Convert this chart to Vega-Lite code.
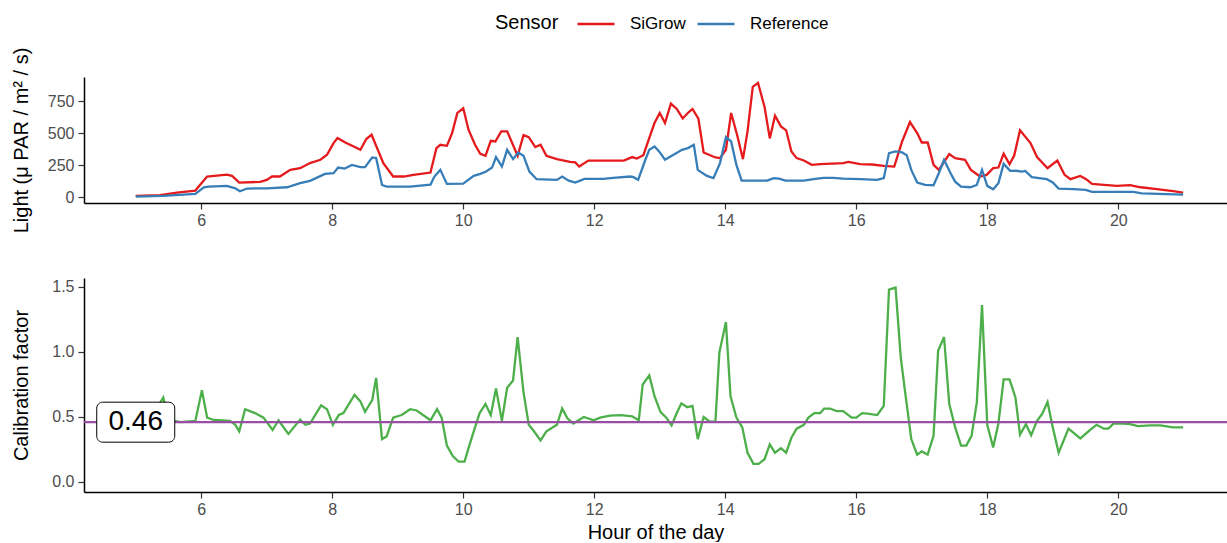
{
  "$schema": "https://vega.github.io/schema/vega-lite/v6.json",
  "padding": {"left": 11, "top": 4, "right": 0, "bottom": 0},
  "background": "white",
  "config": {
    "font": "Liberation Sans",
    "view": {"stroke": null},
    "concat": {"spacing": 45},
    "axis": {
      "grid": false,
      "domainColor": "black",
      "domainWidth": 1.5,
      "tickColor": "#333333",
      "tickWidth": 1.2,
      "tickSize": 6,
      "labelColor": "#4D4D4D",
      "labelFontSize": 16,
      "labelFont": "Liberation Sans",
      "titleFont": "Liberation Sans",
      "titleFontSize": 20,
      "titleFontWeight": "normal",
      "titleColor": "black"
    }
  },
  "datasets": {
    "light": [
      {"hour": 5.0, "sensor": "SiGrow", "light": 10}, {"hour": 5.37, "sensor": "SiGrow", "light": 16}, {"hour": 5.63, "sensor": "SiGrow", "light": 36}, {"hour": 5.91, "sensor": "SiGrow", "light": 52}, {"hour": 5.98, "sensor": "SiGrow", "light": 96}, {"hour": 6.09, "sensor": "SiGrow", "light": 162}, {"hour": 6.39, "sensor": "SiGrow", "light": 177}, {"hour": 6.47, "sensor": "SiGrow", "light": 167}, {"hour": 6.58, "sensor": "SiGrow", "light": 115}, {"hour": 6.9, "sensor": "SiGrow", "light": 120}, {"hour": 7.0, "sensor": "SiGrow", "light": 136}, {"hour": 7.08, "sensor": "SiGrow", "light": 162}, {"hour": 7.2, "sensor": "SiGrow", "light": 162}, {"hour": 7.36, "sensor": "SiGrow", "light": 214}, {"hour": 7.51, "sensor": "SiGrow", "light": 227}, {"hour": 7.66, "sensor": "SiGrow", "light": 267}, {"hour": 7.82, "sensor": "SiGrow", "light": 293}, {"hour": 7.92, "sensor": "SiGrow", "light": 332}, {"hour": 8.02, "sensor": "SiGrow", "light": 423}, {"hour": 8.08, "sensor": "SiGrow", "light": 463}, {"hour": 8.2, "sensor": "SiGrow", "light": 428}, {"hour": 8.43, "sensor": "SiGrow", "light": 371}, {"hour": 8.52, "sensor": "SiGrow", "light": 455}, {"hour": 8.6, "sensor": "SiGrow", "light": 489}, {"hour": 8.78, "sensor": "SiGrow", "light": 267}, {"hour": 8.93, "sensor": "SiGrow", "light": 162}, {"hour": 9.09, "sensor": "SiGrow", "light": 162}, {"hour": 9.24, "sensor": "SiGrow", "light": 175}, {"hour": 9.5, "sensor": "SiGrow", "light": 193}, {"hour": 9.59, "sensor": "SiGrow", "light": 384}, {"hour": 9.65, "sensor": "SiGrow", "light": 410}, {"hour": 9.75, "sensor": "SiGrow", "light": 402}, {"hour": 9.83, "sensor": "SiGrow", "light": 502}, {"hour": 9.91, "sensor": "SiGrow", "light": 659}, {"hour": 10.0, "sensor": "SiGrow", "light": 695}, {"hour": 10.08, "sensor": "SiGrow", "light": 528}, {"hour": 10.18, "sensor": "SiGrow", "light": 410}, {"hour": 10.26, "sensor": "SiGrow", "light": 340}, {"hour": 10.34, "sensor": "SiGrow", "light": 324}, {"hour": 10.42, "sensor": "SiGrow", "light": 441}, {"hour": 10.49, "sensor": "SiGrow", "light": 436}, {"hour": 10.58, "sensor": "SiGrow", "light": 515}, {"hour": 10.67, "sensor": "SiGrow", "light": 515}, {"hour": 10.77, "sensor": "SiGrow", "light": 397}, {"hour": 10.83, "sensor": "SiGrow", "light": 324}, {"hour": 10.92, "sensor": "SiGrow", "light": 486}, {"hour": 11.0, "sensor": "SiGrow", "light": 470}, {"hour": 11.1, "sensor": "SiGrow", "light": 392}, {"hour": 11.18, "sensor": "SiGrow", "light": 410}, {"hour": 11.27, "sensor": "SiGrow", "light": 324}, {"hour": 11.43, "sensor": "SiGrow", "light": 298}, {"hour": 11.63, "sensor": "SiGrow", "light": 277}, {"hour": 11.71, "sensor": "SiGrow", "light": 272}, {"hour": 11.77, "sensor": "SiGrow", "light": 240}, {"hour": 11.91, "sensor": "SiGrow", "light": 287}, {"hour": 12.45, "sensor": "SiGrow", "light": 287}, {"hour": 12.58, "sensor": "SiGrow", "light": 314}, {"hour": 12.65, "sensor": "SiGrow", "light": 303}, {"hour": 12.75, "sensor": "SiGrow", "light": 329}, {"hour": 12.83, "sensor": "SiGrow", "light": 449}, {"hour": 12.92, "sensor": "SiGrow", "light": 580}, {"hour": 13.0, "sensor": "SiGrow", "light": 659}, {"hour": 13.08, "sensor": "SiGrow", "light": 580}, {"hour": 13.17, "sensor": "SiGrow", "light": 732}, {"hour": 13.26, "sensor": "SiGrow", "light": 690}, {"hour": 13.35, "sensor": "SiGrow", "light": 616}, {"hour": 13.44, "sensor": "SiGrow", "light": 664}, {"hour": 13.5, "sensor": "SiGrow", "light": 690}, {"hour": 13.59, "sensor": "SiGrow", "light": 614}, {"hour": 13.67, "sensor": "SiGrow", "light": 350}, {"hour": 13.85, "sensor": "SiGrow", "light": 311}, {"hour": 13.92, "sensor": "SiGrow", "light": 306}, {"hour": 14.01, "sensor": "SiGrow", "light": 371}, {"hour": 14.09, "sensor": "SiGrow", "light": 659}, {"hour": 14.18, "sensor": "SiGrow", "light": 489}, {"hour": 14.27, "sensor": "SiGrow", "light": 298}, {"hour": 14.34, "sensor": "SiGrow", "light": 515}, {"hour": 14.42, "sensor": "SiGrow", "light": 863}, {"hour": 14.5, "sensor": "SiGrow", "light": 894}, {"hour": 14.6, "sensor": "SiGrow", "light": 706}, {"hour": 14.68, "sensor": "SiGrow", "light": 460}, {"hour": 14.76, "sensor": "SiGrow", "light": 638}, {"hour": 14.85, "sensor": "SiGrow", "light": 554}, {"hour": 14.93, "sensor": "SiGrow", "light": 523}, {"hour": 15.01, "sensor": "SiGrow", "light": 358}, {"hour": 15.09, "sensor": "SiGrow", "light": 306}, {"hour": 15.2, "sensor": "SiGrow", "light": 287}, {"hour": 15.32, "sensor": "SiGrow", "light": 253}, {"hour": 15.45, "sensor": "SiGrow", "light": 259}, {"hour": 15.8, "sensor": "SiGrow", "light": 267}, {"hour": 15.88, "sensor": "SiGrow", "light": 277}, {"hour": 16.06, "sensor": "SiGrow", "light": 259}, {"hour": 16.24, "sensor": "SiGrow", "light": 256}, {"hour": 16.42, "sensor": "SiGrow", "light": 245}, {"hour": 16.58, "sensor": "SiGrow", "light": 240}, {"hour": 16.7, "sensor": "SiGrow", "light": 436}, {"hour": 16.82, "sensor": "SiGrow", "light": 588}, {"hour": 16.93, "sensor": "SiGrow", "light": 502}, {"hour": 17.0, "sensor": "SiGrow", "light": 428}, {"hour": 17.09, "sensor": "SiGrow", "light": 428}, {"hour": 17.18, "sensor": "SiGrow", "light": 253}, {"hour": 17.26, "sensor": "SiGrow", "light": 214}, {"hour": 17.42, "sensor": "SiGrow", "light": 337}, {"hour": 17.51, "sensor": "SiGrow", "light": 306}, {"hour": 17.66, "sensor": "SiGrow", "light": 293}, {"hour": 17.75, "sensor": "SiGrow", "light": 214}, {"hour": 17.89, "sensor": "SiGrow", "light": 162}, {"hour": 17.99, "sensor": "SiGrow", "light": 175}, {"hour": 18.09, "sensor": "SiGrow", "light": 227}, {"hour": 18.17, "sensor": "SiGrow", "light": 232}, {"hour": 18.25, "sensor": "SiGrow", "light": 340}, {"hour": 18.34, "sensor": "SiGrow", "light": 259}, {"hour": 18.41, "sensor": "SiGrow", "light": 324}, {"hour": 18.5, "sensor": "SiGrow", "light": 523}, {"hour": 18.66, "sensor": "SiGrow", "light": 423}, {"hour": 18.76, "sensor": "SiGrow", "light": 314}, {"hour": 18.92, "sensor": "SiGrow", "light": 227}, {"hour": 19.07, "sensor": "SiGrow", "light": 287}, {"hour": 19.18, "sensor": "SiGrow", "light": 175}, {"hour": 19.27, "sensor": "SiGrow", "light": 141}, {"hour": 19.42, "sensor": "SiGrow", "light": 167}, {"hour": 19.51, "sensor": "SiGrow", "light": 141}, {"hour": 19.6, "sensor": "SiGrow", "light": 104}, {"hour": 19.78, "sensor": "SiGrow", "light": 96}, {"hour": 19.98, "sensor": "SiGrow", "light": 89}, {"hour": 20.18, "sensor": "SiGrow", "light": 94}, {"hour": 20.34, "sensor": "SiGrow", "light": 78}, {"hour": 20.59, "sensor": "SiGrow", "light": 63}, {"hour": 20.84, "sensor": "SiGrow", "light": 47}, {"hour": 20.99, "sensor": "SiGrow", "light": 36},
      {"hour": 5.0, "sensor": "Reference", "light": 5}, {"hour": 5.42, "sensor": "Reference", "light": 10}, {"hour": 5.91, "sensor": "Reference", "light": 26}, {"hour": 6.04, "sensor": "Reference", "light": 78}, {"hour": 6.11, "sensor": "Reference", "light": 83}, {"hour": 6.39, "sensor": "Reference", "light": 89}, {"hour": 6.52, "sensor": "Reference", "light": 70}, {"hour": 6.59, "sensor": "Reference", "light": 47}, {"hour": 6.7, "sensor": "Reference", "light": 68}, {"hour": 7.0, "sensor": "Reference", "light": 70}, {"hour": 7.31, "sensor": "Reference", "light": 78}, {"hour": 7.51, "sensor": "Reference", "light": 110}, {"hour": 7.66, "sensor": "Reference", "light": 128}, {"hour": 7.89, "sensor": "Reference", "light": 183}, {"hour": 8.02, "sensor": "Reference", "light": 188}, {"hour": 8.09, "sensor": "Reference", "light": 232}, {"hour": 8.19, "sensor": "Reference", "light": 224}, {"hour": 8.3, "sensor": "Reference", "light": 253}, {"hour": 8.43, "sensor": "Reference", "light": 235}, {"hour": 8.5, "sensor": "Reference", "light": 235}, {"hour": 8.61, "sensor": "Reference", "light": 311}, {"hour": 8.67, "sensor": "Reference", "light": 306}, {"hour": 8.76, "sensor": "Reference", "light": 96}, {"hour": 8.83, "sensor": "Reference", "light": 83}, {"hour": 9.19, "sensor": "Reference", "light": 83}, {"hour": 9.5, "sensor": "Reference", "light": 99}, {"hour": 9.56, "sensor": "Reference", "light": 162}, {"hour": 9.65, "sensor": "Reference", "light": 214}, {"hour": 9.75, "sensor": "Reference", "light": 104}, {"hour": 10.0, "sensor": "Reference", "light": 107}, {"hour": 10.16, "sensor": "Reference", "light": 167}, {"hour": 10.26, "sensor": "Reference", "light": 183}, {"hour": 10.35, "sensor": "Reference", "light": 201}, {"hour": 10.44, "sensor": "Reference", "light": 232}, {"hour": 10.5, "sensor": "Reference", "light": 314}, {"hour": 10.59, "sensor": "Reference", "light": 240}, {"hour": 10.67, "sensor": "Reference", "light": 371}, {"hour": 10.76, "sensor": "Reference", "light": 298}, {"hour": 10.84, "sensor": "Reference", "light": 350}, {"hour": 10.92, "sensor": "Reference", "light": 324}, {"hour": 11.01, "sensor": "Reference", "light": 201}, {"hour": 11.12, "sensor": "Reference", "light": 141}, {"hour": 11.43, "sensor": "Reference", "light": 136}, {"hour": 11.51, "sensor": "Reference", "light": 162}, {"hour": 11.61, "sensor": "Reference", "light": 130}, {"hour": 11.71, "sensor": "Reference", "light": 115}, {"hour": 11.85, "sensor": "Reference", "light": 144}, {"hour": 12.14, "sensor": "Reference", "light": 144}, {"hour": 12.29, "sensor": "Reference", "light": 151}, {"hour": 12.55, "sensor": "Reference", "light": 162}, {"hour": 12.6, "sensor": "Reference", "light": 157}, {"hour": 12.67, "sensor": "Reference", "light": 136}, {"hour": 12.78, "sensor": "Reference", "light": 293}, {"hour": 12.84, "sensor": "Reference", "light": 371}, {"hour": 12.92, "sensor": "Reference", "light": 397}, {"hour": 12.99, "sensor": "Reference", "light": 358}, {"hour": 13.08, "sensor": "Reference", "light": 293}, {"hour": 13.21, "sensor": "Reference", "light": 332}, {"hour": 13.34, "sensor": "Reference", "light": 371}, {"hour": 13.43, "sensor": "Reference", "light": 384}, {"hour": 13.52, "sensor": "Reference", "light": 410}, {"hour": 13.58, "sensor": "Reference", "light": 214}, {"hour": 13.72, "sensor": "Reference", "light": 167}, {"hour": 13.82, "sensor": "Reference", "light": 149}, {"hour": 13.92, "sensor": "Reference", "light": 267}, {"hour": 14.01, "sensor": "Reference", "light": 470}, {"hour": 14.09, "sensor": "Reference", "light": 436}, {"hour": 14.17, "sensor": "Reference", "light": 253}, {"hour": 14.25, "sensor": "Reference", "light": 130}, {"hour": 14.64, "sensor": "Reference", "light": 130}, {"hour": 14.74, "sensor": "Reference", "light": 149}, {"hour": 14.82, "sensor": "Reference", "light": 145}, {"hour": 14.92, "sensor": "Reference", "light": 130}, {"hour": 15.2, "sensor": "Reference", "light": 130}, {"hour": 15.35, "sensor": "Reference", "light": 141}, {"hour": 15.5, "sensor": "Reference", "light": 151}, {"hour": 15.65, "sensor": "Reference", "light": 151}, {"hour": 15.8, "sensor": "Reference", "light": 146}, {"hour": 16.06, "sensor": "Reference", "light": 141}, {"hour": 16.32, "sensor": "Reference", "light": 136}, {"hour": 16.42, "sensor": "Reference", "light": 149}, {"hour": 16.5, "sensor": "Reference", "light": 345}, {"hour": 16.6, "sensor": "Reference", "light": 358}, {"hour": 16.7, "sensor": "Reference", "light": 350}, {"hour": 16.77, "sensor": "Reference", "light": 329}, {"hour": 16.84, "sensor": "Reference", "light": 214}, {"hour": 16.93, "sensor": "Reference", "light": 115}, {"hour": 17.05, "sensor": "Reference", "light": 96}, {"hour": 17.18, "sensor": "Reference", "light": 94}, {"hour": 17.26, "sensor": "Reference", "light": 188}, {"hour": 17.34, "sensor": "Reference", "light": 293}, {"hour": 17.44, "sensor": "Reference", "light": 188}, {"hour": 17.51, "sensor": "Reference", "light": 122}, {"hour": 17.6, "sensor": "Reference", "light": 83}, {"hour": 17.74, "sensor": "Reference", "light": 78}, {"hour": 17.84, "sensor": "Reference", "light": 96}, {"hour": 17.92, "sensor": "Reference", "light": 214}, {"hour": 18.0, "sensor": "Reference", "light": 89}, {"hour": 18.09, "sensor": "Reference", "light": 63}, {"hour": 18.17, "sensor": "Reference", "light": 110}, {"hour": 18.25, "sensor": "Reference", "light": 261}, {"hour": 18.35, "sensor": "Reference", "light": 206}, {"hour": 18.43, "sensor": "Reference", "light": 208}, {"hour": 18.53, "sensor": "Reference", "light": 201}, {"hour": 18.58, "sensor": "Reference", "light": 206}, {"hour": 18.68, "sensor": "Reference", "light": 157}, {"hour": 18.91, "sensor": "Reference", "light": 141}, {"hour": 19.0, "sensor": "Reference", "light": 115}, {"hour": 19.09, "sensor": "Reference", "light": 68}, {"hour": 19.32, "sensor": "Reference", "light": 63}, {"hour": 19.5, "sensor": "Reference", "light": 57}, {"hour": 19.6, "sensor": "Reference", "light": 42}, {"hour": 20.23, "sensor": "Reference", "light": 42}, {"hour": 20.36, "sensor": "Reference", "light": 31}, {"hour": 20.99, "sensor": "Reference", "light": 20}
    ],
    "calib": [
      {"hour": 5.0, "factor": 0.5}, {"hour": 5.1, "factor": 0.48}, {"hour": 5.2, "factor": 0.5}, {"hour": 5.3, "factor": 0.55}, {"hour": 5.42, "factor": 0.65}, {"hour": 5.5, "factor": 0.48}, {"hour": 5.68, "factor": 0.46}, {"hour": 5.91, "factor": 0.47}, {"hour": 6.01, "factor": 0.705}, {"hour": 6.09, "factor": 0.495}, {"hour": 6.19, "factor": 0.477}, {"hour": 6.44, "factor": 0.47}, {"hour": 6.52, "factor": 0.44}, {"hour": 6.58, "factor": 0.39}, {"hour": 6.67, "factor": 0.56}, {"hour": 6.82, "factor": 0.53}, {"hour": 6.95, "factor": 0.495}, {"hour": 7.09, "factor": 0.4}, {"hour": 7.18, "factor": 0.475}, {"hour": 7.33, "factor": 0.37}, {"hour": 7.51, "factor": 0.48}, {"hour": 7.59, "factor": 0.44}, {"hour": 7.66, "factor": 0.45}, {"hour": 7.83, "factor": 0.59}, {"hour": 7.92, "factor": 0.56}, {"hour": 8.01, "factor": 0.44}, {"hour": 8.1, "factor": 0.515}, {"hour": 8.17, "factor": 0.53}, {"hour": 8.34, "factor": 0.67}, {"hour": 8.43, "factor": 0.62}, {"hour": 8.5, "factor": 0.54}, {"hour": 8.61, "factor": 0.63}, {"hour": 8.67, "factor": 0.8}, {"hour": 8.76, "factor": 0.33}, {"hour": 8.83, "factor": 0.35}, {"hour": 8.93, "factor": 0.495}, {"hour": 9.06, "factor": 0.515}, {"hour": 9.19, "factor": 0.56}, {"hour": 9.29, "factor": 0.55}, {"hour": 9.5, "factor": 0.475}, {"hour": 9.6, "factor": 0.56}, {"hour": 9.67, "factor": 0.495}, {"hour": 9.75, "factor": 0.28}, {"hour": 9.84, "factor": 0.2}, {"hour": 9.93, "factor": 0.156}, {"hour": 10.02, "factor": 0.156}, {"hour": 10.08, "factor": 0.26}, {"hour": 10.17, "factor": 0.405}, {"hour": 10.25, "factor": 0.53}, {"hour": 10.34, "factor": 0.6}, {"hour": 10.42, "factor": 0.515}, {"hour": 10.5, "factor": 0.72}, {"hour": 10.59, "factor": 0.47}, {"hour": 10.67, "factor": 0.725}, {"hour": 10.76, "factor": 0.78}, {"hour": 10.83, "factor": 1.115}, {"hour": 10.92, "factor": 0.69}, {"hour": 11.0, "factor": 0.44}, {"hour": 11.08, "factor": 0.39}, {"hour": 11.18, "factor": 0.32}, {"hour": 11.27, "factor": 0.39}, {"hour": 11.43, "factor": 0.44}, {"hour": 11.51, "factor": 0.565}, {"hour": 11.59, "factor": 0.49}, {"hour": 11.68, "factor": 0.45}, {"hour": 11.84, "factor": 0.5}, {"hour": 11.99, "factor": 0.475}, {"hour": 12.09, "factor": 0.495}, {"hour": 12.24, "factor": 0.51}, {"hour": 12.4, "factor": 0.515}, {"hour": 12.58, "factor": 0.505}, {"hour": 12.68, "factor": 0.475}, {"hour": 12.74, "factor": 0.75}, {"hour": 12.84, "factor": 0.82}, {"hour": 12.92, "factor": 0.66}, {"hour": 13.01, "factor": 0.54}, {"hour": 13.1, "factor": 0.495}, {"hour": 13.18, "factor": 0.435}, {"hour": 13.26, "factor": 0.53}, {"hour": 13.33, "factor": 0.605}, {"hour": 13.42, "factor": 0.575}, {"hour": 13.5, "factor": 0.585}, {"hour": 13.58, "factor": 0.33}, {"hour": 13.67, "factor": 0.5}, {"hour": 13.76, "factor": 0.465}, {"hour": 13.85, "factor": 0.465}, {"hour": 13.91, "factor": 0.995}, {"hour": 14.01, "factor": 1.23}, {"hour": 14.08, "factor": 0.66}, {"hour": 14.17, "factor": 0.495}, {"hour": 14.26, "factor": 0.42}, {"hour": 14.34, "factor": 0.225}, {"hour": 14.43, "factor": 0.14}, {"hour": 14.51, "factor": 0.14}, {"hour": 14.6, "factor": 0.175}, {"hour": 14.68, "factor": 0.29}, {"hour": 14.76, "factor": 0.225}, {"hour": 14.85, "factor": 0.26}, {"hour": 14.93, "factor": 0.225}, {"hour": 15.01, "factor": 0.34}, {"hour": 15.09, "factor": 0.41}, {"hour": 15.2, "factor": 0.44}, {"hour": 15.27, "factor": 0.495}, {"hour": 15.36, "factor": 0.53}, {"hour": 15.45, "factor": 0.53}, {"hour": 15.51, "factor": 0.565}, {"hour": 15.6, "factor": 0.565}, {"hour": 15.7, "factor": 0.545}, {"hour": 15.8, "factor": 0.545}, {"hour": 15.93, "factor": 0.495}, {"hour": 16.0, "factor": 0.495}, {"hour": 16.09, "factor": 0.53}, {"hour": 16.17, "factor": 0.525}, {"hour": 16.32, "factor": 0.515}, {"hour": 16.42, "factor": 0.585}, {"hour": 16.5, "factor": 1.48}, {"hour": 16.6, "factor": 1.495}, {"hour": 16.68, "factor": 0.955}, {"hour": 16.75, "factor": 0.675}, {"hour": 16.84, "factor": 0.33}, {"hour": 16.93, "factor": 0.21}, {"hour": 17.0, "factor": 0.235}, {"hour": 17.09, "factor": 0.21}, {"hour": 17.18, "factor": 0.355}, {"hour": 17.25, "factor": 1.01}, {"hour": 17.34, "factor": 1.115}, {"hour": 17.42, "factor": 0.6}, {"hour": 17.51, "factor": 0.42}, {"hour": 17.6, "factor": 0.28}, {"hour": 17.68, "factor": 0.28}, {"hour": 17.76, "factor": 0.355}, {"hour": 17.84, "factor": 0.61}, {"hour": 17.92, "factor": 1.36}, {"hour": 18.0, "factor": 0.44}, {"hour": 18.09, "factor": 0.265}, {"hour": 18.17, "factor": 0.45}, {"hour": 18.25, "factor": 0.79}, {"hour": 18.34, "factor": 0.79}, {"hour": 18.43, "factor": 0.65}, {"hour": 18.5, "factor": 0.365}, {"hour": 18.59, "factor": 0.445}, {"hour": 18.67, "factor": 0.36}, {"hour": 18.76, "factor": 0.47}, {"hour": 18.84, "factor": 0.525}, {"hour": 18.92, "factor": 0.615}, {"hour": 19.0, "factor": 0.42}, {"hour": 19.09, "factor": 0.225}, {"hour": 19.24, "factor": 0.41}, {"hour": 19.42, "factor": 0.335}, {"hour": 19.58, "factor": 0.405}, {"hour": 19.67, "factor": 0.44}, {"hour": 19.78, "factor": 0.41}, {"hour": 19.85, "factor": 0.41}, {"hour": 19.93, "factor": 0.45}, {"hour": 20.08, "factor": 0.45}, {"hour": 20.18, "factor": 0.445}, {"hour": 20.3, "factor": 0.43}, {"hour": 20.49, "factor": 0.435}, {"hour": 20.64, "factor": 0.435}, {"hour": 20.84, "factor": 0.42}, {"hour": 20.99, "factor": 0.42}
    ],
    "mean": [{"hour": 5.0, "factor": 0.46, "label": "0.46"}]
  },
  "vconcat": [
    {
      "width": 1143,
      "height": 126,
      "data": {"name": "light"},
      "mark": {"type": "line", "strokeWidth": 2.3},
      "encoding": {
        "x": {"field": "hour", "type": "quantitative", "scale": {"domain": [4.21, 21.66], "nice": false, "zero": false}, "axis": {"values": [6, 8, 10, 12, 14, 16, 18, 20], "format": "d", "title": null, "labelPadding": 3}},
        "y": {"field": "light", "type": "quantitative", "scale": {"domain": [-45, 940], "nice": false, "zero": false}, "axis": {"values": [0, 250, 500, 750], "format": "d", "title": "Light (μ PAR / m² / s)", "minExtent": 38, "maxExtent": 38, "titlePadding": 15, "labelPadding": 4}},
        "color": {
          "field": "sensor", "type": "nominal",
          "scale": {"domain": ["SiGrow", "Reference"], "range": ["#E41A1C", "#377EB8"]},
          "legend": {"title": "Sensor", "orient": "none", "legendX": 411, "legendY": -73, "direction": "horizontal", "titleOrient": "left", "titleAnchor": "middle", "titleBaseline": "line-top", "titleLineHeight": 10.4, "symbolType": "stroke", "symbolSize": 1369, "symbolStrokeWidth": 2.5, "labelFontSize": 17, "labelColor": "black", "titleFontSize": 20, "titleFontWeight": "normal", "titleColor": "black", "labelOffset": 14, "columnPadding": 6, "titlePadding": 17}
        }
      }
    },
    {
      "width": 1143,
      "height": 214,
      "layer": [
        {
          "data": {"name": "calib"},
          "mark": {"type": "line", "strokeWidth": 2.3, "color": "#4DAF4A"},
          "encoding": {
            "x": {"field": "hour", "type": "quantitative", "scale": {"domain": [4.21, 21.66], "nice": false, "zero": false}, "axis": {"values": [6, 8, 10, 12, 14, 16, 18, 20], "format": "d", "title": "Hour of the day", "labelPadding": 3, "titlePadding": 5}},
            "y": {"field": "factor", "type": "quantitative", "scale": {"domain": [-0.077, 1.569], "nice": false, "zero": false}, "axis": {"values": [0, 0.5, 1, 1.5], "format": ".1f", "title": "Calibration factor", "minExtent": 38, "maxExtent": 38, "titlePadding": 15, "labelPadding": 4}}
          }
        },
        {
          "data": {"name": "mean"},
          "mark": {"type": "rule", "color": "#984EA3", "strokeWidth": 2.3},
          "encoding": {"y": {"field": "factor", "type": "quantitative"}}
        },
        {
          "data": {"name": "mean"},
          "mark": {"type": "rect", "fill": "white", "stroke": "black", "strokeWidth": 1, "cornerRadius": 6, "xOffset": -39, "x2Offset": 39, "yOffset": -20, "y2Offset": 20},
          "encoding": {
            "x": {"field": "hour", "type": "quantitative"},
            "x2": {"field": "hour"},
            "y": {"field": "factor", "type": "quantitative"},
            "y2": {"field": "factor"}
          }
        },
        {
          "data": {"name": "mean"},
          "mark": {"type": "text", "fontSize": 28, "color": "black", "align": "center", "baseline": "middle"},
          "encoding": {
            "x": {"field": "hour", "type": "quantitative"},
            "y": {"field": "factor", "type": "quantitative"},
            "text": {"field": "label"}
          }
        }
      ]
    }
  ]
}
